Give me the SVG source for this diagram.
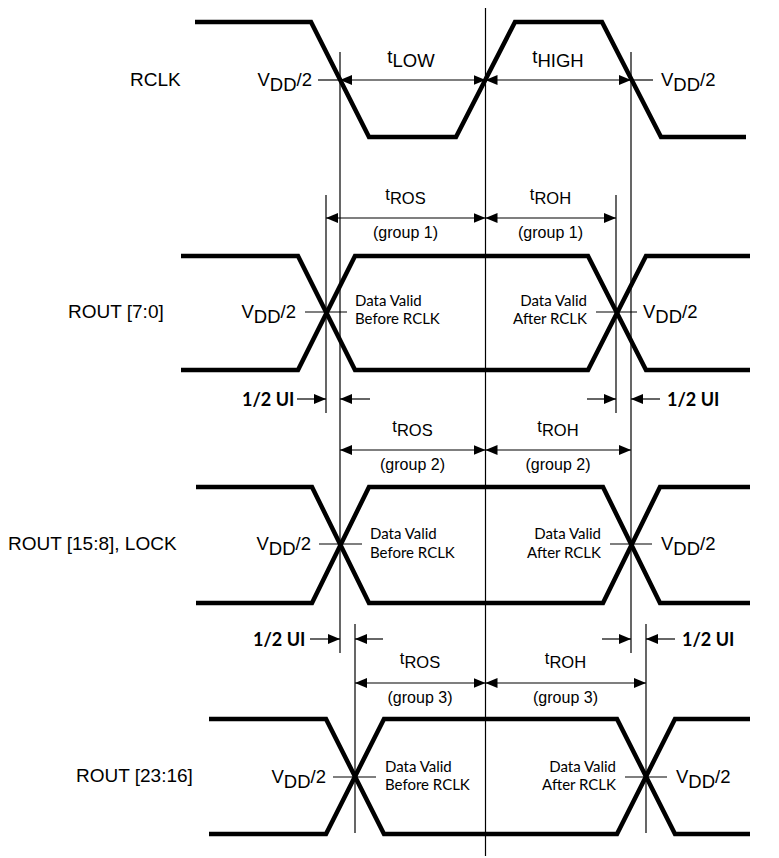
<svg xmlns="http://www.w3.org/2000/svg" width="779" height="858" viewBox="0 0 779 858">
<style>
.wave{fill:none;stroke:#000;stroke-width:4.5;stroke-linejoin:miter;stroke-miterlimit:10}
.thin{fill:none;stroke:#000;stroke-width:1.2}
.dbl{marker-start:url(#ah);marker-end:url(#ah)}
.one{marker-end:url(#ah)}
text{fill:#000}
.lbl{font-family:"Liberation Sans",Arial,sans-serif;font-size:19px}
.v{font-family:"Liberation Sans",Arial,sans-serif;font-size:18.5px}
.t1{font-family:"Liberation Sans",Arial,sans-serif;font-size:18.5px;text-anchor:middle}
.t2{font-family:"Liberation Sans",Arial,sans-serif;font-size:16.5px;text-anchor:middle}
.grp{font-family:"Liberation Sans",Arial,sans-serif;font-size:16px;text-anchor:middle}
.dv{font-family:Lato,"Open Sans",sans-serif;font-size:15px}
.ui{font-family:Lato,"Open Sans",sans-serif;font-size:18px;font-weight:bold}
.end{text-anchor:end}
</style>
<defs>
<marker id="ah" viewBox="0 0 12 10" refX="12" refY="5" markerWidth="12" markerHeight="10" markerUnits="userSpaceOnUse" orient="auto-start-reverse">
<path d="M0,0 L12,5 L0,10 z" fill="#000"/>
</marker>
</defs>
<rect width="779" height="858" fill="#fff"/>

<g id="rclk">
<text class="lbl" x="130" y="86">RCLK</text>
<path class="wave" d="M195,22 H311 L369,137 H456 L515,22 H602 L661,137 H746"/>
<text class="v end" x="312" y="86">V<tspan dy="5">DD</tspan><tspan dy="-5">/2</tspan></text>
<text class="v" x="661" y="86">V<tspan dy="5">DD</tspan><tspan dy="-5">/2</tspan></text>
<text class="t1" x="411" y="63">t<tspan dy="4">LOW</tspan></text>
<text class="t1" x="558" y="63">t<tspan dy="4">HIGH</tspan></text>
</g>

<g id="rout7_0">
<text class="lbl" x="68" y="318">ROUT [7:0]</text>
<path class="wave" d="M181,256 H298 L355,370 H588 L646,256 H750"/>
<path class="wave" d="M181,370 H298 L355,256 H588 L646,370 H750"/>
<text class="v end" x="296" y="318">V<tspan dy="5">DD</tspan><tspan dy="-5">/2</tspan></text>
<text class="v" x="643" y="318">V<tspan dy="5">DD</tspan><tspan dy="-5">/2</tspan></text>
<text class="t2" x="405.5" y="200">t<tspan dy="4">ROS</tspan></text>
<text class="t2" x="550.5" y="200">t<tspan dy="4">ROH</tspan></text>
<text class="grp" x="405.5" y="238">(group 1)</text>
<text class="grp" x="550.5" y="238">(group 1)</text>
<text class="dv" x="355" y="305.5">Data Valid</text>
<text class="dv" x="355" y="324">Before RCLK</text>
<text class="dv end" x="587" y="305.5">Data Valid</text>
<text class="dv end" x="587" y="324">After RCLK</text>
<text class="ui" x="242" y="405.5">1/2 UI</text>
<text class="ui" x="667" y="405.5">1/2 UI</text>
</g>

<g id="rout15_8">
<text class="lbl" x="8" y="550">ROUT [15:8], LOCK</text>
<path class="wave" d="M196,487 H312 L369,603 H603 L660,487 H750"/>
<path class="wave" d="M196,603 H312 L369,487 H603 L660,603 H750"/>
<text class="v end" x="311" y="550">V<tspan dy="5">DD</tspan><tspan dy="-5">/2</tspan></text>
<text class="v" x="661" y="550">V<tspan dy="5">DD</tspan><tspan dy="-5">/2</tspan></text>
<text class="t2" x="412.5" y="432">t<tspan dy="4">ROS</tspan></text>
<text class="t2" x="558" y="432">t<tspan dy="4">ROH</tspan></text>
<text class="grp" x="412.5" y="470">(group 2)</text>
<text class="grp" x="558" y="470">(group 2)</text>
<text class="dv" x="370" y="539">Data Valid</text>
<text class="dv" x="370" y="557.5">Before RCLK</text>
<text class="dv end" x="601" y="539">Data Valid</text>
<text class="dv end" x="601" y="557.5">After RCLK</text>
<text class="ui" x="253" y="645.5">1/2 UI</text>
<text class="ui" x="682" y="645.5">1/2 UI</text>
</g>

<g id="rout23_16">
<text class="lbl" x="76" y="782">ROUT [23:16]</text>
<path class="wave" d="M209,719 H326 L384,834 H617 L675,719 H750"/>
<path class="wave" d="M209,834 H326 L384,719 H617 L675,834 H750"/>
<text class="v end" x="326" y="783">V<tspan dy="5">DD</tspan><tspan dy="-5">/2</tspan></text>
<text class="v" x="676" y="783">V<tspan dy="5">DD</tspan><tspan dy="-5">/2</tspan></text>
<text class="t2" x="420" y="664">t<tspan dy="4">ROS</tspan></text>
<text class="t2" x="565.5" y="664">t<tspan dy="4">ROH</tspan></text>
<text class="grp" x="420" y="703">(group 3)</text>
<text class="grp" x="565.5" y="703">(group 3)</text>
<text class="dv" x="385" y="771.5">Data Valid</text>
<text class="dv" x="385" y="790">Before RCLK</text>
<text class="dv end" x="616" y="771.5">Data Valid</text>
<text class="dv end" x="616" y="790">After RCLK</text>
</g>

<g id="connectors">
<line class="thin" x1="485.5" y1="8" x2="485.5" y2="856"/>
<line class="thin" x1="340" y1="52" x2="340" y2="653"/>
<line class="thin" x1="631" y1="52" x2="631" y2="653"/>
<line class="thin" x1="326" y1="195" x2="326" y2="413"/>
<line class="thin" x1="616" y1="195" x2="616" y2="413"/>
<line class="thin" x1="355" y1="624" x2="355" y2="833"/>
<line class="thin" x1="646" y1="624" x2="646" y2="833"/>
<line class="thin" x1="318" y1="80" x2="340" y2="80"/>
<line class="thin" x1="631" y1="80" x2="653" y2="80"/>
<line class="thin" x1="305" y1="312" x2="347" y2="312"/>
<line class="thin" x1="596" y1="312" x2="637" y2="312"/>
<line class="thin" x1="319" y1="544" x2="362" y2="544"/>
<line class="thin" x1="610" y1="544" x2="652" y2="544"/>
<line class="thin" x1="333" y1="777" x2="376" y2="777"/>
<line class="thin" x1="625" y1="777" x2="667" y2="777"/>
<line class="thin dbl" x1="340" y1="80" x2="485.5" y2="80"/>
<line class="thin dbl" x1="485.5" y1="80" x2="631" y2="80"/>
<line class="thin dbl" x1="326" y1="218" x2="485.5" y2="218"/>
<line class="thin dbl" x1="485.5" y1="218" x2="616" y2="218"/>
<line class="thin dbl" x1="340" y1="450" x2="485.5" y2="450"/>
<line class="thin dbl" x1="485.5" y1="450" x2="631" y2="450"/>
<line class="thin dbl" x1="355" y1="683" x2="485.5" y2="683"/>
<line class="thin dbl" x1="485.5" y1="683" x2="646" y2="683"/>
<line class="thin one" x1="297" y1="399" x2="326" y2="399"/>
<line class="thin one" x1="370" y1="399" x2="340" y2="399"/>
<line class="thin one" x1="587" y1="399" x2="616" y2="399"/>
<line class="thin one" x1="660" y1="399" x2="631" y2="399"/>
<line class="thin one" x1="310" y1="639" x2="340" y2="639"/>
<line class="thin one" x1="383" y1="639" x2="355" y2="639"/>
<line class="thin one" x1="602" y1="639" x2="631" y2="639"/>
<line class="thin one" x1="675" y1="639" x2="646" y2="639"/>
</g>
</svg>
